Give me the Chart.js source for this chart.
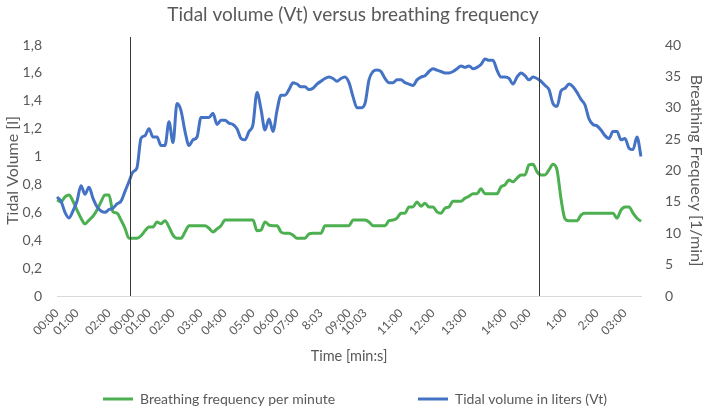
<!DOCTYPE html>
<html>
<head>
<meta charset="utf-8">
<script src="https://cdn.jsdelivr.net/npm/chart.js@4.4.1/dist/chart.umd.min.js"></script>
<style>
  html, body { margin: 0; padding: 0; background: #fff; }
</style>
</head>
<body>
<canvas id="chart" width="706" height="408"></canvas>
<script>
// Tidal volume [l], one reading per category
const tidalVolume = [
  0.71, 0.68, 0.60, 0.56, 0.61, 0.68, 0.79, 0.73, 0.78, 0.70, 0.64, 0.61, 0.60, 0.62, 0.63, 0.66, 0.68, 0.75, 0.82, 0.89, 0.92, 1.13, 1.15, 1.20,
  1.14, 1.14, 1.08, 1.08, 1.25, 1.10, 1.38, 1.33, 1.18, 1.08, 1.12, 1.14, 1.28, 1.28, 1.28, 1.31, 1.23, 1.26, 1.26, 1.24, 1.23, 1.20, 1.13, 1.12, 1.18,
  1.23, 1.46, 1.34, 1.19, 1.27, 1.18, 1.33, 1.44, 1.44, 1.48, 1.53, 1.52, 1.50, 1.50, 1.48, 1.49, 1.52, 1.54, 1.56, 1.57, 1.56, 1.54, 1.56, 1.57,
  1.53, 1.43, 1.35, 1.35, 1.38, 1.55, 1.61, 1.62, 1.61, 1.56, 1.53, 1.53, 1.55, 1.55, 1.53, 1.52, 1.51, 1.55, 1.57, 1.58, 1.61, 1.63, 1.62, 1.61,
  1.60, 1.60, 1.61, 1.63, 1.65, 1.64, 1.65, 1.63, 1.64, 1.66, 1.70, 1.69, 1.69, 1.62, 1.57, 1.57, 1.56, 1.52, 1.57, 1.60, 1.58, 1.55, 1.57, 1.56, 1.54,
  1.51, 1.48, 1.38, 1.36, 1.47, 1.49, 1.52, 1.50, 1.46, 1.41, 1.37, 1.27, 1.23, 1.22, 1.19, 1.15, 1.13, 1.18, 1.18, 1.12, 1.13, 1.06, 1.05, 1.14, 1.00
];

// Breathing frequency [1/min]
const breathingFreq = [
  15.3, 15.0, 15.8, 16.1, 15.1, 13.7, 12.4, 11.5, 12.1, 12.7, 13.7, 15.0, 16.1, 16.1, 13.4, 13.2, 12.1, 10.8, 9.2, 9.2, 9.2, 9.6, 10.4, 11.0,
  11.0, 11.8, 11.5, 12.0, 11.0, 9.7, 9.2, 9.2, 10.2, 11.2, 11.2, 11.2, 11.2, 11.2, 10.8, 10.2, 10.7, 11.2, 12.1, 12.1, 12.1, 12.1, 12.1, 12.1, 12.1,
  12.1, 10.4, 10.5, 11.8, 11.3, 11.2, 11.2, 10.2, 10.0, 10.0, 9.7, 9.2, 9.2, 9.2, 9.9, 10.0, 10.0, 10.0, 11.2, 11.2, 11.2, 11.2, 11.2, 11.2,
  11.2, 12.1, 12.1, 12.1, 12.1, 11.8, 11.2, 11.2, 11.2, 11.2, 12.0, 12.1, 12.4, 13.2, 13.2, 14.2, 14.2, 15.0, 14.3, 14.8, 14.2, 14.2, 13.4, 13.2,
  14.0, 14.2, 15.1, 15.1, 15.1, 15.6, 15.9, 16.3, 16.3, 17.1, 16.3, 16.3, 16.3, 16.3, 17.4, 17.7, 18.5, 18.2, 18.8, 19.3, 19.3, 20.9, 21.0, 19.8, 19.3,
  19.3, 20.1, 21.0, 20.1, 15.5, 12.3, 12.0, 12.0, 12.0, 12.9, 13.2, 13.2, 13.2, 13.2, 13.2, 13.2, 13.2, 13.2, 12.4, 13.7, 14.2, 14.2, 13.2, 12.4, 11.9
];

// Time labels and the category they sit on
const tickIndex = [0, 5, 13, 19, 23, 29, 36, 42, 49, 55, 60, 66, 73, 77, 86, 94, 102, 112, 118, 127, 135, 142];
const tickText = ['00:00', '01:00', '02:00', '00:00', '01:00', '02:00', '03:00', '04:00', '05:00', '06:00', '07:00',
  '8:03', '09:00', '10:03', '11:00', '12:00', '13:00', '14:00', '0:00', '1:00', '2:00', '03:00'];

// Where a new measurement phase starts (category position)
const phaseStarts = [18.25, 120.5];

const categories = tidalVolume.map(() => '');
tickIndex.forEach((idx, k) => { categories[idx] = tickText[k]; });

const BLUE = '#4472c4';
const GREEN = '#4caf50';
const TEXT = '#595959';
const FONT = 'Lato, "Liberation Sans", sans-serif';
Chart.defaults.font.family = FONT;
Chart.defaults.color = TEXT;

const legendItems = [
  { text: 'Breathing frequency per minute', color: GREEN, x: 103 },
  { text: 'Tidal volume in liters (Vt)', color: BLUE, x: 418 }
];

// vertical phase markers
const phaseLines = {
  id: 'phaseLines',
  afterDatasetsDraw(chart) {
    const { ctx, chartArea, scales: { x } } = chart;
    ctx.save();
    ctx.strokeStyle = '#3a3a3a';
    ctx.lineWidth = 1;
    phaseStarts.forEach(i => {
      const px = Math.round(x.getPixelForValue(i)) + 0.5;
      ctx.beginPath();
      ctx.moveTo(px, chartArea.top - 8);
      ctx.lineTo(px, chartArea.bottom);
      ctx.stroke();
    });
    ctx.restore();
  }
};

// spread-out legend at the bottom, like the original
const bottomLegend = {
  id: 'bottomLegend',
  afterDraw(chart) {
    const ctx = chart.ctx;
    const y = 399;
    ctx.save();
    ctx.font = '14px ' + FONT;
    ctx.textBaseline = 'middle';
    ctx.fillStyle = TEXT;
    legendItems.forEach(item => {
      ctx.strokeStyle = item.color;
      ctx.lineWidth = 3;
      ctx.beginPath();
      ctx.moveTo(item.x, y);
      ctx.lineTo(item.x + 30, y);
      ctx.stroke();
      ctx.fillText(item.text, item.x + 37, y);
    });
    ctx.restore();
  }
};

new Chart(document.getElementById('chart'), {
  type: 'line',
  data: {
    labels: categories,
    datasets: [
      {
        label: 'Tidal volume in liters (Vt)',
        data: tidalVolume,
        yAxisID: 'y',
        borderColor: BLUE,
        borderWidth: 3,
        borderJoinStyle: 'round',
        pointRadius: 0,
        cubicInterpolationMode: 'monotone',
        order: 0
      },
      {
        label: 'Breathing frequency per minute',
        data: breathingFreq,
        yAxisID: 'y1',
        borderColor: GREEN,
        borderWidth: 3,
        borderJoinStyle: 'round',
        pointRadius: 0,
        cubicInterpolationMode: 'monotone',
        order: 1
      }
    ]
  },
  options: {
    responsive: false,
    animation: false,
    layout: { padding: { top: 0, left: 0, right: 0, bottom: 39 } },
    plugins: {
      legend: { display: false },
      tooltip: { enabled: false },
      title: {
        display: true,
        text: 'Tidal volume (Vt) versus breathing frequency',
        font: { size: 19, weight: 'normal' },
        color: TEXT,
        padding: { top: 3, bottom: 19.2 }
      }
    },
    scales: {
      x: {
        type: 'category',
        grid: { display: false, drawTicks: false },
        border: { color: '#d9d9d9', width: 1 },
        ticks: { autoSkip: false, minRotation: 45, maxRotation: 45, padding: 10, font: { size: 12 }, color: TEXT },
        title: { display: true, text: 'Time [min:s]', font: { size: 14.5 }, color: TEXT, padding: { top: 0, bottom: 4 } },
        afterFit: s => { s.height = 73; }
      },
      y: {
        position: 'left',
        min: 0,
        max: 1.8,
        grid: { display: false, drawTicks: false },
        border: { display: false },
        ticks: {
          stepSize: 0.2,
          padding: 15,
          font: { size: 14 },
          color: TEXT,
          callback: v => String(Number(v.toFixed(1))).replace('.', ',')
        },
        title: { display: true, text: 'Tidal Volume [l]', font: { size: 16 }, color: TEXT, padding: { top: 3, bottom: 0 } },
        afterFit: s => { s.width = 57; }
      },
      y1: {
        position: 'right',
        min: 0,
        max: 40,
        grid: { display: false, drawTicks: false },
        border: { display: false },
        ticks: { stepSize: 5, padding: 24, font: { size: 14 }, color: TEXT },
        title: { display: true, text: 'Breathing Frequecy [1/min]', font: { size: 16 }, color: TEXT, padding: { top: 0, bottom: 0 } },
        afterFit: s => { s.width = 65; }
      }
    }
  },
  plugins: [phaseLines, bottomLegend]
});
</script>
</body>
</html>
